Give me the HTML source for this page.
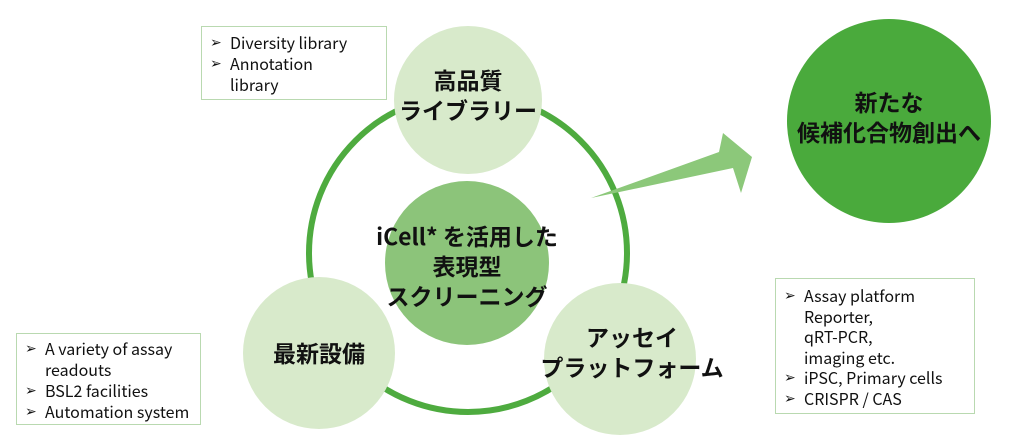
<!DOCTYPE html>
<html><head><meta charset="utf-8"><style>
body{margin:0;width:1024px;height:440px;background:#fff;position:relative;overflow:hidden;font-family:"Noto Sans CJK JP","Liberation Sans",sans-serif}
.box{position:absolute;border:1px solid #b9d9b0;background:#fff;font-size:16px;line-height:20px;color:#111;padding:4px 8px;box-sizing:border-box;white-space:nowrap}
.box div{padding-left:20px;position:relative}
.box div.b:before{content:"➢";position:absolute;left:0;font-size:14px}
.lbl{position:absolute;text-align:center;font-weight:bold;font-size:23px;line-height:30px;color:#111;font-family:"Noto Sans CJK JP",sans-serif;white-space:nowrap}
</style></head><body>
<svg width="1024" height="440" style="position:absolute;left:0;top:0">
<circle cx="468" cy="253" r="159" fill="none" stroke="#4eab3f" stroke-width="6"/>
<circle cx="468" cy="100" r="74" fill="#d8eacb"/>
<circle cx="467" cy="263" r="82" fill="#8cc47a"/>
<circle cx="319" cy="353" r="76" fill="#d8eacb"/>
<circle cx="620" cy="359" r="76" fill="#d8eacb"/>
<circle cx="889" cy="121" r="102" fill="#4aaa3c"/>
<polygon points="591,198 719,152 723,133 752,157 741,193 733,168" fill="#8cc87a"/>
</svg>
<div class="box" style="left:201px;top:26px;width:186px;height:74px;line-height:21px;padding-top:5px"><div class="b">Diversity library</div><div class="b">Annotation<br>library</div></div>
<div class="box" style="left:16px;top:333px;width:185px;height:92px;line-height:21px"><div class="b">A variety of assay<br>readouts</div><div class="b">BSL2 facilities</div><div class="b">Automation system</div></div>
<div class="box" style="left:775px;top:278px;width:200px;height:136px;line-height:20.5px;padding-top:6px"><div class="b">Assay platform<br>Reporter,<br>qRT-PCR,<br>imaging etc.</div><div class="b">iPSC, Primary cells</div><div class="b">CRISPR / CAS</div></div>
<div class="lbl" style="left:368px;top:64px;width:200px">高品質<br>ライブラリー</div>
<div class="lbl" style="left:337px;top:220px;width:260px">iCell* を活用した<br>表現型<br>スクリーニング</div>
<div class="lbl" style="left:219px;top:337px;width:200px">最新設備</div>
<div class="lbl" style="left:532px;top:321px;width:200px">アッセイ<br>プラットフォーム</div>
<div class="lbl" style="left:769px;top:86px;width:240px">新たな<br>候補化合物創出へ</div>
</body></html>
